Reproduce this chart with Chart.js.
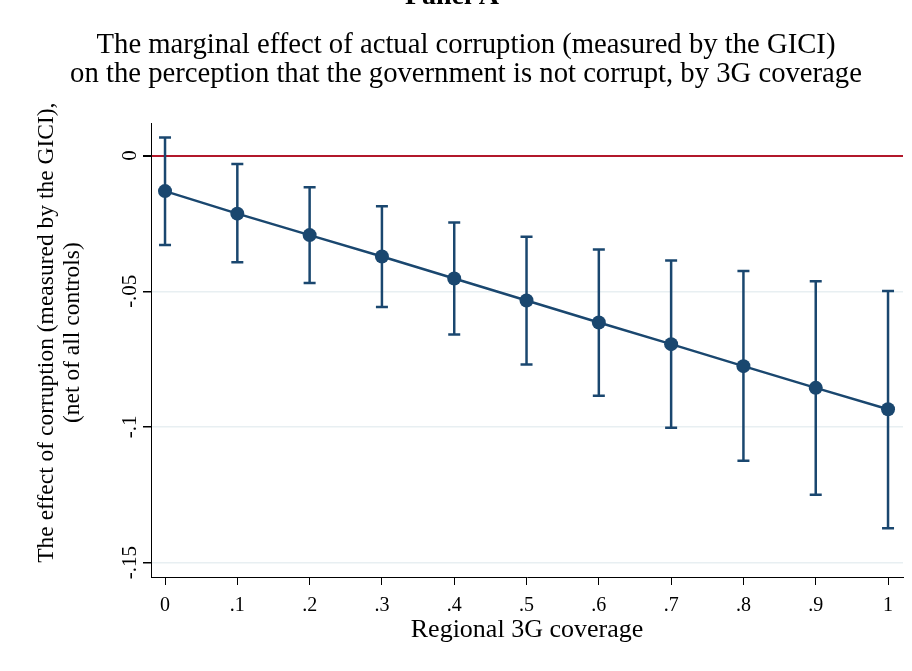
<!DOCTYPE html>
<html>
<head>
<meta charset="utf-8">
<script src="https://cdn.jsdelivr.net/npm/chart.js@4.4.2/dist/chart.umd.min.js"></script>
<style>
  html, body { margin: 0; padding: 0; background: #fff; }
  #wrap { width: 912px; height: 671px; }
</style>
</head>
<body>
<div id="wrap"><canvas id="margins-chart" width="912" height="671"></canvas></div>
<script>
// valeurs
const coverage = [0, 0.1, 0.2, 0.3, 0.4, 0.5, 0.6, 0.7, 0.8, 0.9, 1];
const effect = [-0.0131, -0.0214, -0.0293, -0.0372, -0.0453, -0.0534, -0.0615, -0.0695, -0.0776, -0.0856, -0.0935];
const ciUpper = [0.0067, -0.0031, -0.0117, -0.0187, -0.0247, -0.0299, -0.0346, -0.0387, -0.0425, -0.0463, -0.0499];
const ciLower = [-0.0330, -0.0393, -0.0470, -0.0558, -0.0659, -0.0770, -0.0885, -0.1003, -0.1125, -0.1250, -0.1373];

const xTickVals = [0, 0.1, 0.2, 0.3, 0.4, 0.5, 0.6, 0.7, 0.8, 0.9, 1];
const xTickLabels = ['0', '.1', '.2', '.3', '.4', '.5', '.6', '.7', '.8', '.9', '1'];
const yTickVals = [0, -0.05, -0.1, -0.15];
const yTickLabels = ['0', '-.05', '-.1', '-.15'];

const navy = '#1a476f';
const serif = '"Liberation Serif", "DejaVu Serif", serif';

// barres d'erreur : bas, haut, puis un trou
const ciPoints = [];
coverage.forEach((x, i) => {
  ciPoints.push({ x, y: ciLower[i] });
  ciPoints.push({ x, y: ciUpper[i] });
  ciPoints.push({ x, y: null });
});

// le titre "Panel A" coupé en haut de l'image
const panelLabel = {
  id: 'panelLabel',
  afterDraw(chart) {
    const ctx = chart.ctx;
    ctx.save();
    ctx.font = 'bold 28px ' + serif;
    ctx.fillStyle = '#000';
    ctx.textAlign = 'center';
    ctx.textBaseline = 'alphabetic';
    ctx.fillText('Panel A', 452, 4);
    ctx.restore();
  }
};

new Chart(document.getElementById('margins-chart'), {
  type: 'line',
  data: {
    datasets: [
      {
        label: 'IC 95%',
        data: ciPoints,
        borderColor: navy,
        borderWidth: 2.5,
        spanGaps: false,
        pointStyle: 'line',
        pointRadius: 6,
        pointBorderWidth: 2.5,
        pointBorderColor: navy,
        order: 2
      },
      {
        label: 'Effet marginal',
        data: coverage.map((x, i) => ({ x, y: effect[i] })),
        borderColor: navy,
        borderWidth: 2.5,
        pointRadius: 7,
        pointBackgroundColor: navy,
        pointBorderColor: navy,
        pointBorderWidth: 0,
        order: 1
      }
    ]
  },
  options: {
    responsive: false,
    animation: false,
    events: [],
    layout: { padding: { left: 29, right: 9, top: 0, bottom: 25 } },
    plugins: {
      legend: { display: false },
      tooltip: { enabled: false },
      title: {
        display: true,
        text: [
          'The marginal effect of actual corruption (measured by the GICI)',
          'on the perception that the government is not corrupt, by 3G coverage'
        ],
        color: '#000',
        font: { family: serif, size: 28.7, weight: 'normal', lineHeight: 1.02 },
        padding: { top: 31, bottom: 34 }
      }
    },
    scales: {
      x: {
        type: 'linear',
        min: -0.0194,
        max: 1.0207,
        afterBuildTicks: s => { s.ticks = xTickVals.map(v => ({ value: v })); },
        afterFit: s => { s.height = 69; },
        border: { color: '#000', width: 1 },
        grid: { drawOnChartArea: false, drawTicks: true, tickLength: 8, tickColor: '#000' },
        ticks: {
          color: '#000',
          font: { family: serif, size: 20 },
          padding: 9,
          maxRotation: 0,
          autoSkip: false,
          callback: (v, i) => xTickLabels[i]
        },
        title: {
          display: true,
          text: 'Regional 3G coverage',
          color: '#000',
          font: { family: serif, size: 26 },
          padding: { top: 0, bottom: 0 }
        }
      },
      y: {
        type: 'linear',
        min: -0.1553,
        max: 0.0118,
        afterBuildTicks: s => { s.ticks = yTickVals.map(v => ({ value: v })); },
        afterFit: s => { s.width = 122; },
        border: { color: '#000', width: 1 },
        grid: {
          drawTicks: true,
          tickLength: 8,
          tickColor: '#000',
          color: c => (c.tick && c.tick.value === 0 ? '#b2182b' : '#e8eff2'),
          lineWidth: c => (c.tick && c.tick.value === 0 ? 2 : 1.5)
        },
        ticks: {
          color: '#000',
          font: { family: serif, size: 21 },
          padding: -4,
          minRotation: 90,
          maxRotation: 90,
          crossAlign: 'center',
          autoSkip: false,
          callback: (v, i) => yTickLabels[i]
        },
        title: {
          display: true,
          // espaces en tête : le titre est un peu décalé vers le haut dans l'original
          text: ['      The effect of corruption (measured by the GICI),', '      (net of all controls)'],
          color: '#000',
          font: { family: serif, size: 23.5, lineHeight: 1.1 },
          padding: { top: 5, bottom: 0 }
        }
      }
    }
  },
  plugins: [panelLabel]
});
</script>
</body>
</html>
